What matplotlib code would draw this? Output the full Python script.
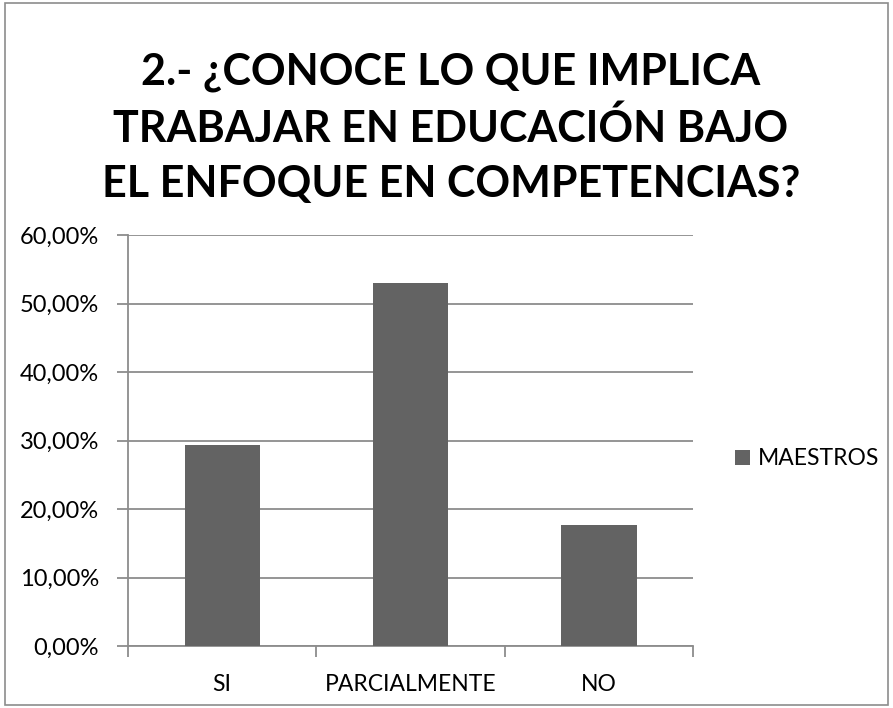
import matplotlib.pyplot as plt
from matplotlib.patches import Rectangle
from matplotlib.ticker import FuncFormatter

categories = ["SI", "PARCIALMENTE", "NO"]
maestros = [29.41, 52.94, 17.65]
series_name = "MAESTROS"
title = "2.- ¿CONOCE LO QUE IMPLICA\nTRABAJAR EN EDUCACIÓN BAJO\nEL ENFOQUE EN COMPETENCIAS?"

plt.rcParams['font.family'] = ['Lato', 'DejaVu Sans']

fig = plt.figure(figsize=(8.93, 7.08), dpi=100)
ax = fig.add_axes([128 / 893, 1 - 646 / 708, 565 / 893, 411 / 708])

grid_c = '#8c8c8c'
bar_c = '#636363'

x = range(len(categories))
ax.bar(x, maestros, width=0.4, color=bar_c, label=series_name, zorder=3)

ax.set_xlim(-0.5, 2.5)
ax.set_ylim(0, 60)
ax.set_yticks(range(0, 61, 10))
ax.yaxis.set_major_formatter(FuncFormatter(lambda v, p: f"{v:.2f}%".replace('.', ',')))
ax.set_xticks(list(x))
ax.set_xticklabels(categories)
ax.set_xticks([-0.5, 0.5, 1.5, 2.5], minor=True)

ax.grid(axis='y', color=grid_c, linewidth=1.3, zorder=0)
for s in ['top', 'right']:
    ax.spines[s].set_visible(False)
for s in ['left', 'bottom']:
    ax.spines[s].set_color(grid_c)
    ax.spines[s].set_linewidth(1.3)

ax.tick_params(axis='y', length=8, color=grid_c, width=1.3, labelsize=17, pad=13)
ax.tick_params(axis='x', which='major', length=0, labelsize=16.5, pad=20)
ax.tick_params(axis='x', which='minor', length=8, color=grid_c, width=1.3)

fig.text(0.505, 1 - 128 / 708, title, ha='center', va='center', fontsize=31,
         fontweight='bold', linespacing=1.45)

ax.legend(loc='center left', bbox_to_anchor=(1.075, 0.455), frameon=False,
          fontsize=16.5, handlelength=0.65, handleheight=0.65, handletextpad=0.35,
          borderpad=0, borderaxespad=0)

fig.add_artist(Rectangle((5 / 893, 3 / 708), 883 / 893, 702 / 708, transform=fig.transFigure,
                         fill=False, edgecolor='#8c8c8c', linewidth=1.2))

fig.savefig('out.png', dpi=100)
